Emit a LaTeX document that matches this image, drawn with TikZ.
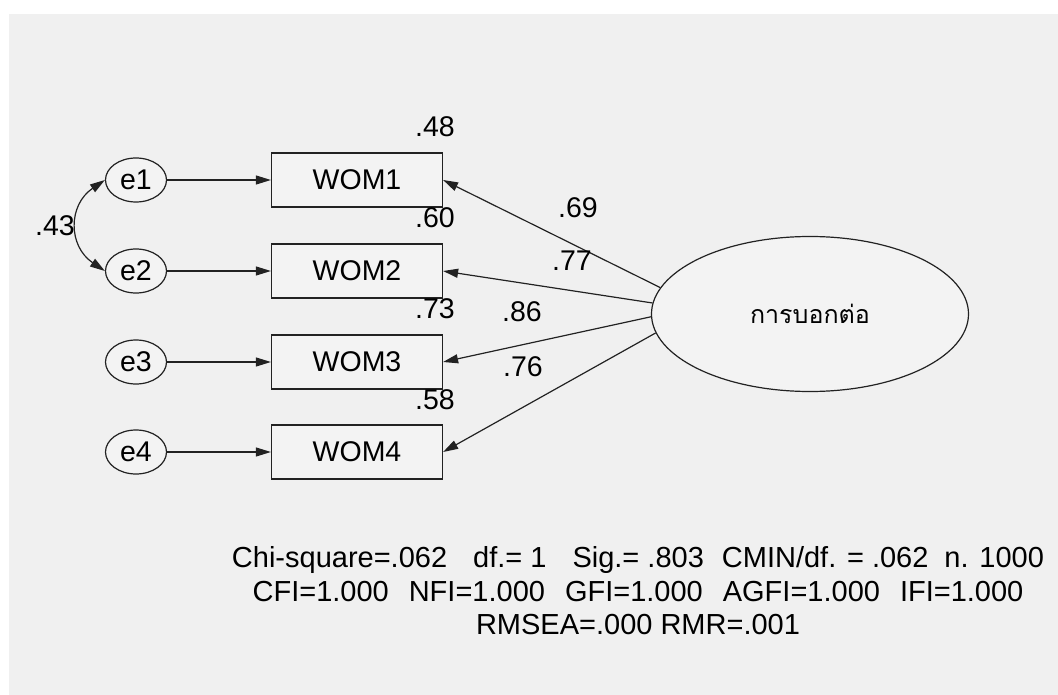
\documentclass[tikz,border=0pt]{standalone}
\usepackage{fontspec}
\setmainfont{Liberation Sans}
\newfontfamily\thaifont[Script=Thai]{Loma}
\usetikzlibrary{arrows.meta, shapes.geometric}
\definecolor{bgry} {RGB}{240,240,240}
\definecolor{ngry} {RGB}{243,243,243}
\definecolor{lnk}  {RGB}{ 34, 34, 34}
\tikzset{
  % Error term ellipse
  EB/.style={ellipse,draw=lnk,fill=ngry,minimum width=61pt,
             minimum height=44pt,inner sep=0pt,line width=1.2pt,
             font=\fontsize{28.5}{32}\selectfont},
  % Observed variable box
  OB/.style={rectangle,draw=lnk,fill=ngry,minimum width=171pt,
             minimum height=54pt,inner sep=0pt,line width=1.2pt,
             font=\fontsize{28.5}{32}\selectfont},
  % Latent variable ellipse
  LB/.style={ellipse,draw=lnk,fill=ngry,minimum width=317pt,
             minimum height=155pt,inner sep=0pt,line width=1.2pt},
  % Estimates
  VL/.style={inner sep=0pt,font=\fontsize{28.5}{32}\selectfont},
  % Arrows
  Arr/.style ={-{Triangle[length=15pt,width=9pt]},line width=1.2pt,color=lnk},
  CArr/.style={{Triangle[length=15pt,width=9pt]}-{Triangle[length=15pt,width=9pt]},
               line width=1.2pt,color=lnk},
}
\begin{document}
\begin{tikzpicture}[x=1pt,y=-1pt]
      \useasboundingbox (0,0) rectangle (1058,695);
      \fill[bgry] (9,14) rectangle (1058,695);
      % latent factor
      \node[LB] at (810,314) (lat)
            {\thaifont\fontsize{25}{30}\selectfont การบอกต่อ};
      % indicators with their errors
      \node[EB] at (136,180) (e1) {e1};
      \node[OB] at (357,180) (w1) {WOM1};
      \draw[Arr] (e1)--(w1);
      \node[EB] at (136,271) (e2) {e2};
      \node[OB] at (357,271) (w2) {WOM2};
      \draw[Arr] (e2)--(w2);
      \node[EB] at (136,362) (e3) {e3};
      \node[OB] at (357,362) (w3) {WOM3};
      \draw[Arr] (e3)--(w3);
      \node[EB] at (136,452) (e4) {e4};
      \node[OB] at (357,452) (w4) {WOM4};
      \draw[Arr] (e4)--(w4);
      % error covariance
      \draw[CArr] (e1.west) .. controls +(-37,25) and +(-37,-25) .. (e2.west);
      \node[VL] at (55,226) (c12) {.43};
      % loadings
      \draw[Arr] (lat.170)--(w1.east);
      \draw[Arr] (lat.176)--(w2.east);
      \draw[Arr] (lat.181)--(w3.east);
      \draw[Arr] (lat.187)--(w4.east);
      \node[VL] at (578,208) (k1) {.69};
      \node[VL] at (572,261) (k2) {.77};
      \node[VL] at (522,312) (k3) {.86};
      \node[VL] at (523,367) (k4) {.76};
      % squared multiple correlations
      \node[VL] at (435,127) (r1) {.48};
      \node[VL] at (435,218) (r2) {.60};
      \node[VL] at (435,309) (r3) {.73};
      \node[VL] at (435,400) (r4) {.58};
      % fit indices
      \node[VL,align=center,font=\fontsize{29}{33.5}\selectfont] at (638,591) (fit)
            {Chi-square=.062\hspace{26pt}df.= 1\hspace{26pt}Sig.= .803\hspace{18pt}CMIN/df. = .062\hspace{16pt}n. 1000\\
             CFI=1.000\hspace{20pt}NFI=1.000\hspace{20pt}GFI=1.000\hspace{20pt}AGFI=1.000\hspace{20pt}IFI=1.000\\
             RMSEA=.000 RMR=.001};
\end{tikzpicture}
\end{document}
